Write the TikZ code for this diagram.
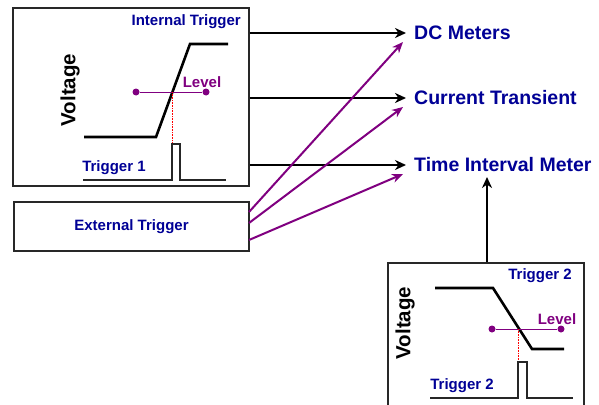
\documentclass[tikz,border=0pt]{standalone}
\usepackage{fontspec}
\setmainfont{Liberation Sans}
\usetikzlibrary{arrows.meta}
\definecolor{navy}{RGB}{0,0,150}
\definecolor{plum}{RGB}{128,0,128}
\definecolor{boxgray}{RGB}{40,40,40}
\tikzset{
  panel/.style={draw=boxgray, line width=1.4pt, fill=white, inner sep=0pt},
  sig/.style={draw=black, line width=2.6pt},
  pulse/.style={draw=black!85, line width=1.5pt},
  levelline/.style={draw=plum, line width=1pt},
  dot/.style={circle, fill=plum, inner sep=0pt, minimum size=7pt},
  trace/.style={draw=red, densely dotted, line width=0.6pt},
  bluelab/.style={text=navy, font=\bfseries\fontsize{15}{16}\selectfont, inner sep=0pt},
  biglab/.style={text=navy, font=\bfseries\fontsize{19.5}{20}\selectfont, inner sep=0pt, anchor=west},
  levlab/.style={text=plum, font=\bfseries\fontsize{15}{16}\selectfont, inner sep=0pt},
  voltlab/.style={text=black, font=\bfseries\fontsize{20.5}{21}\selectfont, inner sep=0pt, rotate=90},
  blackarrow/.style={draw=black, line width=2.8pt, -{Stealth[length=11pt,width=10pt,inset=3.5pt]}},
  purplearrow/.style={draw=plum, line width=2pt, -{Stealth[length=11pt,width=9pt,inset=3.5pt]}},
}
\begin{document}
\begin{tikzpicture}[x=1pt,y=-1pt]
\clip (0,0) rectangle (599,404);
\fill[white] (0,0) rectangle (599,404);

% boxes
\node[panel, minimum width=236pt, minimum height=178pt] (intbox) at (131,97) {};
\node[panel, minimum width=235pt, minimum height=49pt] (extbox) at (131.5,226.5) {};
\node[panel, minimum width=196pt, minimum height=160pt] (box2) at (486,343) {};

% internal trigger panel contents
\node[bluelab, anchor=east] (inttitle) at (241,22) {Internal Trigger};
\node[voltlab] (volt1) at (70,90) {Voltage};
\draw[sig] (84,137) -- (156,137) -- (190,44) -- (228,44);
\node[dot] (l1a) at (136,92) {};
\node[dot] (l1b) at (206,92) {};
\draw[levelline] (l1a) -- (l1b);
\node[levlab] (lev1) at (202,82) {Level};
\coordinate (x1) at (172.5,92);
\coordinate (p1) at (172.5,144);
\draw[trace] (x1) -- (p1);
\draw[pulse] (83,180) -- (172,180) -- (172,144) -- (180,144) -- (180,180) -- (226,180);
\node[bluelab] (trig1) at (114,168) {Trigger 1};

% external trigger
\node[bluelab] (exttitle) at (131.5,227) {External Trigger};

% trigger 2 panel contents
\node[bluelab] (t2title) at (540,276) {Trigger 2};
\node[voltlab] (volt2) at (405,323) {Voltage};
\draw[sig] (435,288) -- (493,288) -- (532,349) -- (564,349);
\node[dot] (l2a) at (492,329) {};
\node[dot] (l2b) at (561,329) {};
\draw[levelline] (l2a) -- (l2b);
\node[levlab] (lev2) at (557,319) {Level};
\coordinate (x2) at (518.5,329);
\coordinate (p2) at (518.5,362);
\draw[trace] (x2) -- (p2);
\draw[pulse] (430,398) -- (518,398) -- (518,362) -- (527,362) -- (527,398) -- (573,398);
\node[bluelab] (trig2) at (462,386) {Trigger 2};

% destinations
\node[biglab] (dc) at (414,33) {DC Meters};
\node[biglab] (ct) at (414,98) {Current Transient};
\node[biglab] (tim) at (414,165) {Time Interval Meter};

% black arrows from internal trigger
\coordinate (dcin) at (406,33);
\coordinate (ctin) at (406,98);
\coordinate (timin) at (406,165);
\draw[blackarrow] (intbox.east |- dcin) -- (dcin);
\draw[blackarrow] (intbox.east |- ctin) -- (ctin);
\draw[blackarrow] (intbox.east |- timin) -- (timin);

% purple arrows from external trigger
\coordinate (e1) at (249,212);
\coordinate (e2) at (249,223);
\coordinate (e3) at (249,240);
\coordinate (dcp) at (403,42);
\coordinate (ctp) at (403,107);
\coordinate (timp) at (403,174);
\draw[purplearrow] (e1) -- (dcp);
\draw[purplearrow] (e2) -- (ctp);
\draw[purplearrow] (e3) -- (timp);

% trigger 2 to time interval meter
\coordinate (tup) at (487,177);
\draw[blackarrow] (box2.north -| tup) -- (tup);
\end{tikzpicture}
\end{document}
